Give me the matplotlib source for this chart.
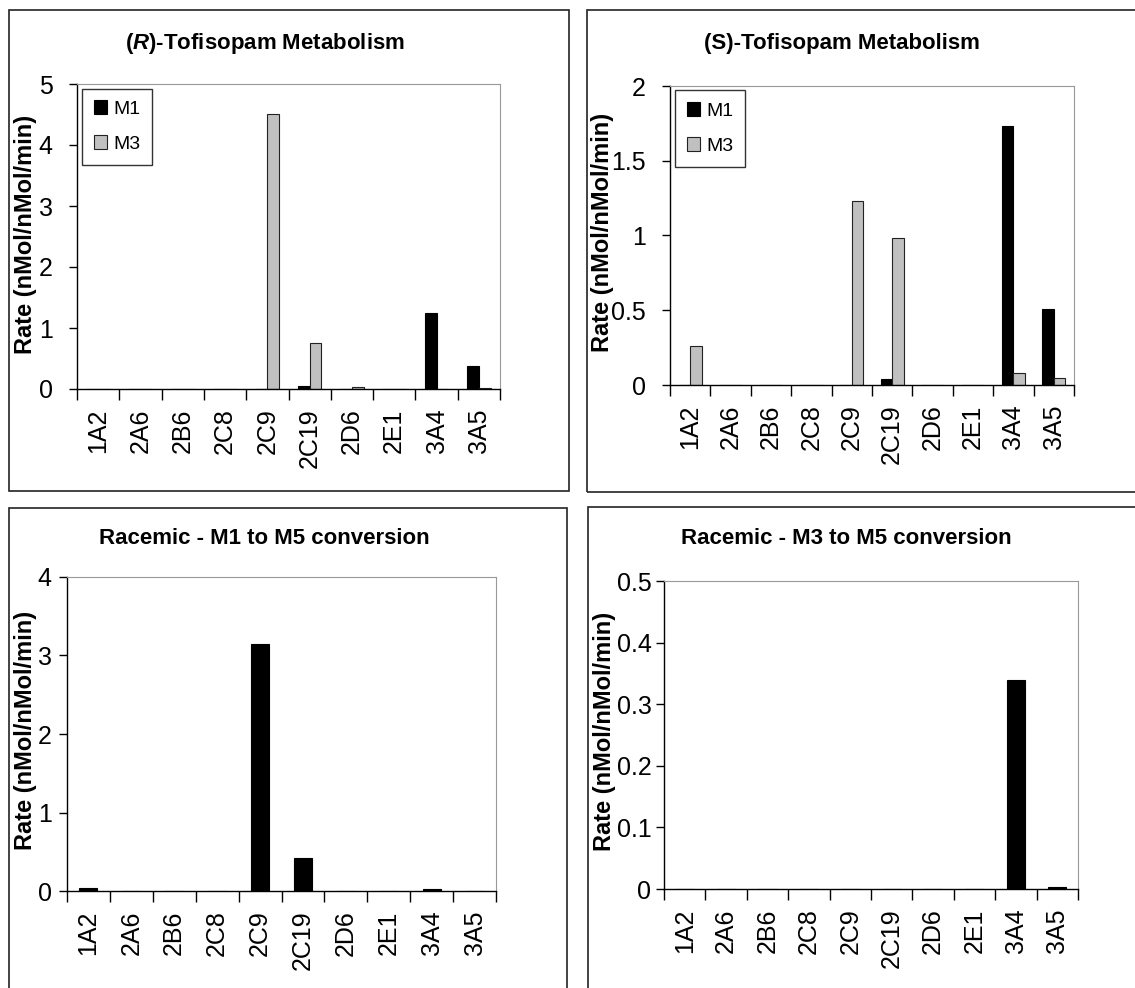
import numpy as np
import matplotlib
matplotlib.use('Agg')
import matplotlib.pyplot as plt
from matplotlib.patches import Rectangle
from matplotlib.ticker import FuncFormatter

plt.rcParams['font.family'] = ['Liberation Sans', 'DejaVu Sans']
plt.rcParams['mathtext.fontset'] = 'custom'
plt.rcParams['mathtext.rm'] = 'Liberation Sans:bold'
plt.rcParams['mathtext.bf'] = 'Liberation Sans:bold'
plt.rcParams['mathtext.it'] = 'Liberation Sans:italic:bold'

# data
enzymes = ['1A2', '2A6', '2B6', '2C8', '2C9', '2C19', '2D6', '2E1', '3A4', '3A5']

r_m1 = [0, 0, 0, 0, 0, 0.05, 0, 0, 1.25, 0.37]
r_m3 = [0, 0, 0, 0, 4.5, 0.75, 0.04, 0, 0, 0.02]

s_m1 = [0, 0, 0, 0, 0, 0.04, 0, 0, 1.73, 0.51]
s_m3 = [0.26, 0, 0, 0, 1.23, 0.98, 0, 0, 0.08, 0.05]

rac_m1_m5 = [0.04, 0, 0, 0, 3.15, 0.42, 0, 0, 0.03, 0]
rac_m3_m5 = [0, 0, 0, 0, 0, 0, 0, 0, 0.34, 0.003]

W, H = 1135, 988
fig = plt.figure(figsize=(W / 100, H / 100), dpi=100)


def fx(px):
    return px / W


def fy(py):
    return 1 - py / H


def box(x0, y0, x1, y1):
    fig.add_artist(Rectangle((fx(x0), fy(y1)), fx(x1) - fx(x0), fy(y0) - fy(y1),
                             transform=fig.transFigure, fill=False,
                             edgecolor='#222222', linewidth=1.2))


def make_axes(x0, y0, x1, y1, ymax, ystep, ypad):
    ax = fig.add_axes([fx(x0), fy(y1), fx(x1) - fx(x0), fy(y0) - fy(y1)])
    ax.set_xlim(-0.5, len(enzymes) - 0.5)
    ax.set_ylim(0, ymax)
    ax.set_yticks(np.arange(0, ymax + ystep / 2, ystep))
    ax.yaxis.set_major_formatter(FuncFormatter(lambda v, p: f'{v:g}'))
    ax.tick_params(axis='y', labelsize=18, length=6, width=1, pad=ypad)
    # boundary ticks on x, labels in the middle of categories
    ax.set_xticks(np.arange(-0.5, len(enzymes), 1))
    ax.set_xticklabels([])
    ax.tick_params(axis='x', which='major', length=8, width=1)
    ax.set_xticks(np.arange(len(enzymes)), minor=True)
    ax.set_xticklabels(enzymes, minor=True, rotation=90, fontsize=18)
    ax.tick_params(axis='x', which='minor', length=0, pad=14)
    for s in ['top', 'right']:
        ax.spines[s].set_color('#999999')
    for s in ['left', 'bottom']:
        ax.spines[s].set_color('black')
        ax.spines[s].set_linewidth(1)
    return ax


def add_legend(ax):
    ax.legend(loc='upper left', bbox_to_anchor=(0.012, 0.985), borderaxespad=0,
              fontsize=14, frameon=True, fancybox=False, edgecolor='black',
              handlelength=0.7, handleheight=0.7, handletextpad=0.3,
              labelspacing=0.9, borderpad=0.6)


x = np.arange(len(enzymes))
bw = 0.28

# panel boxes
box(8.5, 10, 569, 491)
box(587, 10, 1145, 492)
box(8.5, 508, 567, 1000)
box(588, 507, 1145, 1000)

# (R)
ax1 = make_axes(77, 84, 500, 389, 5, 1, 11.5)
ax1.bar(x - bw / 2, r_m1, bw, color='black', edgecolor='black', linewidth=0.8, label='M1')
ax1.bar(x + bw / 2, r_m3, bw, color='#c0c0c0', edgecolor='#222222', linewidth=0.8, label='M3')
add_legend(ax1)

# (S)
ax2 = make_axes(670, 86, 1074, 385, 2, 0.5, 11.5)
ax2.bar(x - bw / 2, s_m1, bw, color='black', edgecolor='black', linewidth=0.8, label='M1')
ax2.bar(x + bw / 2, s_m3, bw, color='#c0c0c0', edgecolor='#222222', linewidth=0.8, label='M3')
add_legend(ax2)

# racemic M1 -> M5
ax3 = make_axes(67, 577, 496, 891, 4, 1, 5)
ax3.bar(x, rac_m1_m5, 0.42, color='black', edgecolor='black', linewidth=0.8)

# racemic M3 -> M5
ax4 = make_axes(664, 581, 1078, 889, 0.5, 0.1, 3)
ax4.bar(x, rac_m3_m5, 0.44, color='black', edgecolor='black', linewidth=0.8)

# titles
tkw = dict(ha='center', va='center', fontsize=16, fontweight='bold')
fig.text(fx(265), fy(43), r'($\mathit{R}$)-Tofisopam Metabolism', **tkw)
fig.text(fx(842), fy(43), '(S)-Tofisopam Metabolism', **tkw)
fig.text(fx(264), fy(538), 'Racemic - M1 to M5 conversion', **tkw)
fig.text(fx(846), fy(538), 'Racemic - M3 to M5 conversion', **tkw)

# y labels
lkw = dict(ha='center', va='center', rotation=90, fontsize=17, fontweight='bold')
ylab = 'Rate (nMol/nMol/min)'
fig.text(fx(26), fy(234), ylab, **lkw)
fig.text(fx(602), fy(232), ylab, **lkw)
fig.text(fx(26), fy(730), ylab, **lkw)
fig.text(fx(604), fy(731), ylab, **lkw)

fig.savefig('out.png', dpi=100)
